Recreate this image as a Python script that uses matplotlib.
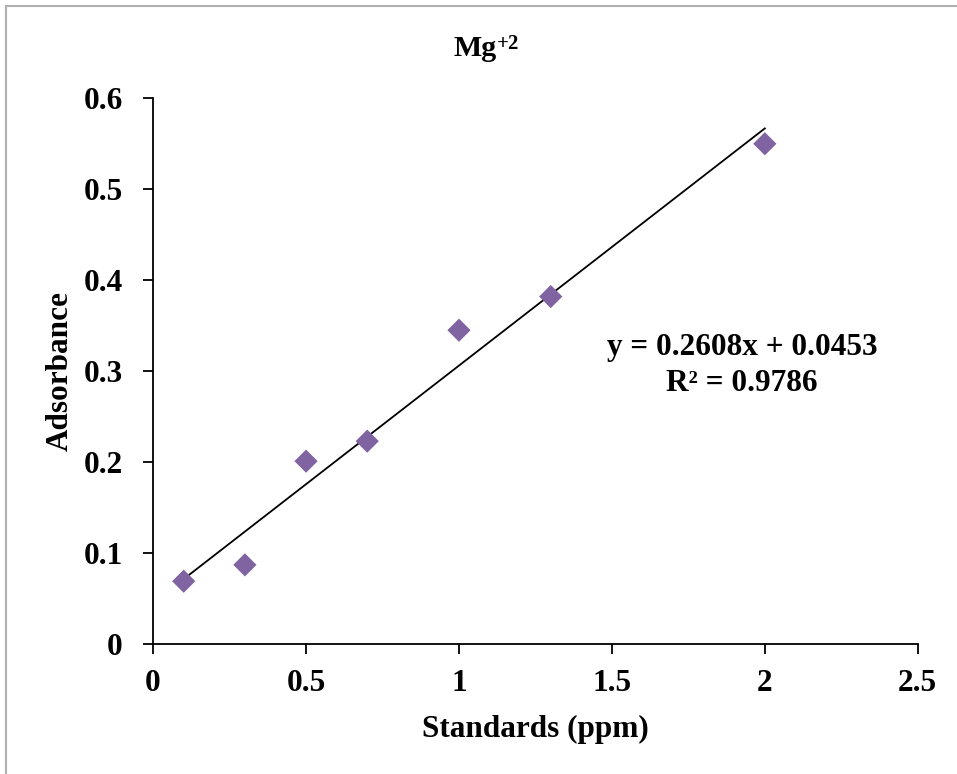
import matplotlib.pyplot as plt
from matplotlib.patches import Rectangle
import numpy as np

# Calibration standards for Mg+2
standards_ppm = [0.1, 0.3, 0.5, 0.7, 1.0, 1.3, 2.0]
absorbance = [0.069, 0.087, 0.201, 0.223, 0.345, 0.382, 0.550]
slope, intercept = 0.2608, 0.0453
r_squared = 0.9786

x_ticks = [0, 0.5, 1, 1.5, 2, 2.5]
x_tick_labels = ['0', '0.5', '1', '1.5', '2', '2.5']
y_ticks = [0, 0.1, 0.2, 0.3, 0.4, 0.5, 0.6]
y_tick_labels = ['0', '0.1', '0.2', '0.3', '0.4', '0.5', '0.6']

plt.rcParams['font.family'] = ['Liberation Serif', 'DejaVu Serif']
plt.rcParams['font.weight'] = 'bold'

fig = plt.figure(figsize=(9.57, 7.74), dpi=100)
ax = fig.add_axes([0.160, 0.168, 0.799, 0.705])

# gray chart-area frame (cropped on right/bottom in the original)
fig.patches.append(Rectangle((0.0065, -0.1), 1.2, 1.092, transform=fig.transFigure,
                             fill=False, edgecolor='#b0b0b0', linewidth=1.5))

ax.scatter(standards_ppm, absorbance, marker='D', s=140, color='#8064A2',
           edgecolors='none', zorder=3)

xs = np.array([min(standards_ppm), max(standards_ppm)])
ax.plot(xs, slope * xs + intercept, color='black', linewidth=1.3, zorder=2)

ax.set_xlim(0, 2.5)
ax.set_ylim(0, 0.6)
ax.set_xticks(x_ticks)
ax.set_xticklabels(x_tick_labels)
ax.set_yticks(y_ticks)
ax.set_yticklabels(y_tick_labels)
ax.tick_params(axis='both', direction='out', length=7, width=1.3, labelsize=22.5)
ax.tick_params(axis='x', pad=11)
ax.tick_params(axis='y', pad=15)

for side in ['top', 'right']:
    ax.spines[side].set_visible(False)
for side in ['left', 'bottom']:
    ax.spines[side].set_linewidth(1.3)

ax.set_xlabel('Standards (ppm)', fontsize=22.5, fontweight='bold', labelpad=12)
ax.set_ylabel('Adsorbance', fontsize=22.5, fontweight='bold', labelpad=6)

# title with superscript charge
fig.text(0.519, 0.9276, 'Mg', ha='right', va='baseline', fontsize=21.5, fontweight='bold')
fig.text(0.5195, 0.9367, '+2', ha='left', va='baseline', fontsize=15, fontweight='bold')

ax.text(1.926, 0.306, f'y = {slope}x + {intercept}\nR² = {r_squared}', ha='center',
        va='center', fontsize=22.5, fontweight='bold', linespacing=1.3)

fig.savefig('out.png', dpi=100)
